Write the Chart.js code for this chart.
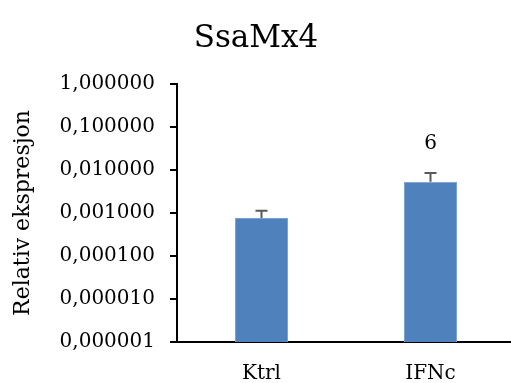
<!DOCTYPE html>
<html>
<head>
<meta charset="utf-8">
<script src="https://cdn.jsdelivr.net/npm/chart.js@4/dist/chart.umd.min.js"></script>
<style>
  html, body { margin: 0; padding: 0; overflow: hidden; background: #fff; }
  #wrap { width: 518px; height: 383px; position: relative; }
</style>
</head>
<body>
<div id="wrap"><canvas id="c"></canvas></div>
<script>
// Relative expression of SsaMx4 per group
const categories = ['Ktrl', 'IFNc'];
const expression = [0.00077, 0.0053];
const errorUp = [0.00036, 0.0032];
const barNotes = ['', '6'];
const tickValues = [1, 0.1, 0.01, 0.001, 0.0001, 0.00001, 0.000001];
const tickLabels = ['1,000000', '0,100000', '0,010000', '0,001000', '0,000100', '0,000010', '0,000001'];

const SERIF = '"DejaVu Serif", "Liberation Serif", serif';

// Upward error whiskers, the note above each bar and the chart heading
const decorations = {
  id: 'decorations',
  afterDatasetsDraw(chart) {
    const ctx = chart.ctx;
    const y = chart.scales.y;
    const meta = chart.getDatasetMeta(0);
    ctx.save();
    meta.data.forEach((bar, i) => {
      const top = y.getPixelForValue(expression[i]);
      const cap = y.getPixelForValue(expression[i] + errorUp[i]);
      ctx.strokeStyle = '#595959';
      ctx.lineWidth = 2;
      ctx.beginPath();
      ctx.moveTo(bar.x, top);
      ctx.lineTo(bar.x, cap);
      ctx.moveTo(bar.x - 6, cap);
      ctx.lineTo(bar.x + 6, cap);
      ctx.stroke();
      if (barNotes[i]) {
        ctx.fillStyle = '#000';
        ctx.font = '20px ' + SERIF;
        ctx.textAlign = 'center';
        ctx.textBaseline = 'middle';
        ctx.fillText(barNotes[i], bar.x, cap - 29);
      }
    });
    ctx.fillStyle = '#000';
    ctx.font = '31px ' + SERIF;
    ctx.textAlign = 'center';
    ctx.textBaseline = 'middle';
    ctx.fillText('SsaMx4', 256, 39);
    ctx.restore();
  }
};

new Chart(document.getElementById('c'), {
  type: 'bar',
  data: {
    labels: categories,
    datasets: [{
      data: expression,
      backgroundColor: '#4F81BD',
      borderColor: '#7BA0D2',
      borderWidth: 1,
      barPercentage: 0.314,
      categoryPercentage: 1
    }]
  },
  options: {
    responsive: true,
    maintainAspectRatio: false,
    animation: false,
    layout: { padding: { left: 0, right: 3, top: 84, bottom: 0 } },
    plugins: { legend: { display: false }, tooltip: { enabled: false }, title: { display: false } },
    scales: {
      x: {
        grid: { display: false },
        border: { display: true, color: '#000', width: 2 },
        ticks: { color: '#000', font: { family: SERIF, size: 20 }, padding: 12 },
        afterFit(scale) { scale.height = 41; }
      },
      y: {
        type: 'logarithmic',
        min: 0.000001,
        max: 1,
        afterBuildTicks(scale) { scale.ticks = tickValues.map(v => ({ value: v })); },
        ticks: {
          color: '#000',
          font: { family: SERIF, size: 20 },
          padding: 15,
          callback: (v, i) => tickLabels[i]
        },
        grid: { drawOnChartArea: false, drawTicks: true, tickLength: 7, color: '#000', lineWidth: 2 },
        border: { display: true, color: '#000', width: 2 },
        title: {
          display: true,
          text: 'Relativ ekspresjon',
          color: '#000',
          font: { family: SERIF, size: 22 },
          padding: { top: 10, bottom: 0 }
        },
        afterFit(scale) { scale.width = 177; }
      }
    }
  },
  plugins: [decorations]
});
</script>
</body>
</html>
